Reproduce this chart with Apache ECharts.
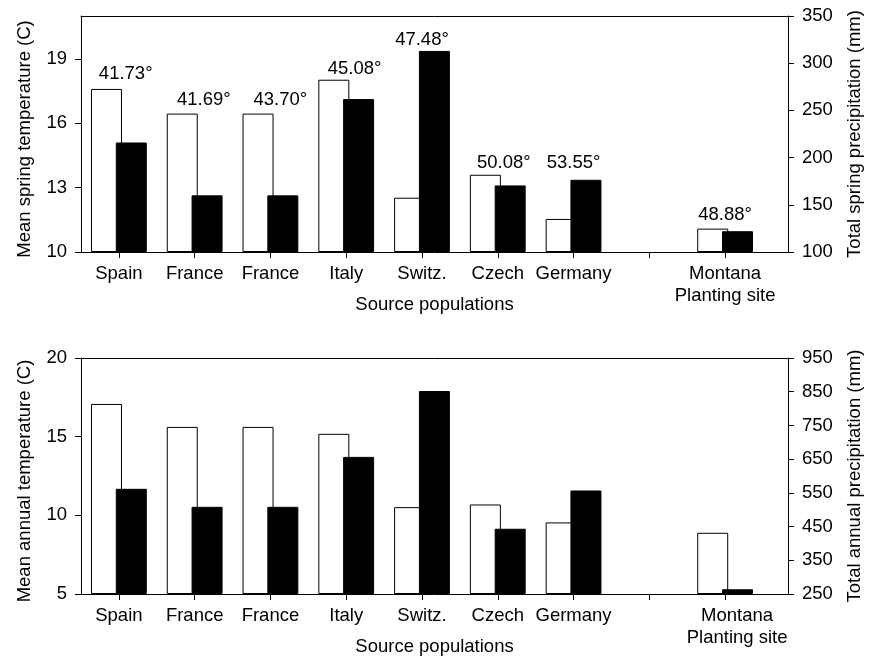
<!DOCTYPE html>
<html>
<head>
<meta charset="utf-8">
<script src="https://cdn.jsdelivr.net/npm/echarts@6/dist/echarts.min.js"></script>
<style>html,body{margin:0;padding:0;background:#fff}#c{width:872px;height:657px}</style>
</head>
<body>
<div id="c"></div>
<script>
// ---- data ----
const categories = ['Spain', 'France', 'France', 'Italy', 'Switz.', 'Czech', 'Germany', '', 'Montana\nPlanting site'];
const catPositions = [0, 1, 2, 3, 4, 5, 6, 7, 8];
const springTemp = [17.6, 16.45, 16.45, 18.03, 12.53, 13.6, 11.54, null, 11.09];
const springPrecip = [216, 160, 160, 262, 313, 170.5, 176.5, null, 122];
const annualTemp = [17.08, 15.62, 15.62, 15.18, 10.52, 10.69, 9.55, null, 8.89];
const annualPrecip = [562, 508.6, 508.6, 656.7, 852, 443.5, 557, null, 264];
const latitudes = ['41.73°', '41.69°', '43.70°', '45.08°', '47.48°', '50.08°', '53.55°', null, '48.88°'];
const latLabelX = [0.09, 0.12, 0.13, 0.11, 0, 0.08, 0, null, 0];
const latLabelY = [18.3, 17.11, 17.11, 18.55, 19.88, 14.16, 14.16, null, 11.73];
const springTempTicks = [10, 13, 16, 19];
const springPrecipTicks = [100, 150, 200, 250, 300, 350];
const annualTempTicks = [5, 10, 15, 20];
const annualPrecipTicks = [250, 350, 450, 550, 650, 750, 850, 950];

const FONT = 'Liberation Sans, Arial, Helvetica, sans-serif';
const FS = 18.5;
const pairs = (vals) => vals.map((v, i) => v == null ? null : [catPositions[i], v]).filter(d => d);

function xAxisDef(gridIndex, shiftMontana) {
  return {
    type: 'value', gridIndex, min: -0.5, max: 8.83,
    splitLine: {show: false},
    axisLine: {show: true, onZero: false, lineStyle: {color: '#000', width: 1}},
    axisTick: {show: true, length: 6, lineStyle: {color: '#000'}, customValues: catPositions},
    axisLabel: {
      show: true, margin: 11, color: '#000', fontFamily: FONT, fontSize: FS, lineHeight: 22,
      customValues: catPositions,
      formatter: (v) => {
        const s = categories[Math.round(v)] || '';
        if (shiftMontana && s.indexOf('\n') >= 0) return s.split('\n').map(t => '{m|' + t + '}').join('\n');
        return s;
      },
      rich: {m: {fontFamily: FONT, fontSize: FS, lineHeight: 22, color: '#000', padding: [0, 0, 0, 24]}}
    },
    name: 'Source populations', nameLocation: 'middle', nameGap: 43, nameMoveOverlap: false,
    nameTextStyle: {color: '#000', fontFamily: FONT, fontSize: FS}
  };
}
function frameAxis(gridIndex) {
  return {
    type: 'value', gridIndex, position: 'top', min: -0.5, max: 8.83,
    splitLine: {show: false}, axisTick: {show: false}, axisLabel: {show: false},
    axisLine: {show: true, onZero: false, lineStyle: {color: '#000', width: 1}}
  };
}
function yAxisDef(gridIndex, pos, min, max, ticks, name, gap, pad) {
  return {
    type: 'value', gridIndex, position: pos, min, max, startValue: min,
    splitLine: {show: false},
    axisLine: {show: true, onZero: false, lineStyle: {color: '#000', width: 1}},
    axisTick: {show: true, length: 6, lineStyle: {color: '#000'}, customValues: ticks},
    axisLabel: {show: true, margin: 14, color: '#000', fontFamily: FONT, fontSize: FS, customValues: ticks},
    name, nameLocation: 'middle', nameGap: gap, nameRotate: 90, nameMoveOverlap: false,
    nameTextStyle: {color: '#000', fontFamily: FONT, fontSize: FS, padding: pad}
  };
}
function barSeries(xi, yi, vals, black) {
  return {
    type: 'bar', xAxisIndex: xi, yAxisIndex: yi, data: pairs(vals),
    barWidth: 31, barGap: '-20%', clip: true, silent: true, animation: false,
    itemStyle: black ? {color: '#000', borderColor: '#000', borderWidth: 1}
                     : {color: '#fff', borderColor: '#000', borderWidth: 1}
  };
}

const labelData = latitudes.map((t, i) => t == null ? null : {value: [catPositions[i] + latLabelX[i], latLabelY[i]], name: t}).filter(d => d);

const option = {
  backgroundColor: '#fff',
  animation: false,
  grid: [
    {left: 81, top: 16, width: 708, height: 236},
    {left: 81, top: 358, width: 708, height: 236}
  ],
  xAxis: [xAxisDef(0, false), xAxisDef(1, true), frameAxis(0), frameAxis(1)],
  yAxis: [
    yAxisDef(0, 'left', 10, 21, springTempTicks, 'Mean spring temperature (C)', 47, [0, 10, 0, 0]),
    yAxisDef(0, 'right', 100, 350, springPrecipTicks, 'Total spring precipitation (mm)', 57, [0, 0, 0, 0]),
    yAxisDef(1, 'left', 5, 20, annualTempTicks, 'Mean annual temperature (C)', 47, [0, 10, 0, 0]),
    yAxisDef(1, 'right', 250, 950, annualPrecipTicks, 'Total annual precipitation (mm)', 57, [0, 0, 0, 0])
  ],
  series: [
    barSeries(0, 0, springTemp, false),
    barSeries(0, 1, springPrecip, true),
    barSeries(1, 2, annualTemp, false),
    barSeries(1, 3, annualPrecip, true),
    {
      type: 'scatter', xAxisIndex: 0, yAxisIndex: 0, data: labelData,
      symbol: 'circle', symbolSize: 1, itemStyle: {color: '#fff', opacity: 1}, silent: true, z: 5,
      label: {show: true, position: 'inside', formatter: (p) => p.name, color: '#000', opacity: 1,
              textBorderWidth: 0, fontFamily: FONT, fontSize: FS},
      emphasis: {disabled: true}
    }
  ]
};
const chart = echarts.init(document.getElementById('c'), null, {renderer: 'canvas'});
chart.setOption(option);
</script>
</body>
</html>
